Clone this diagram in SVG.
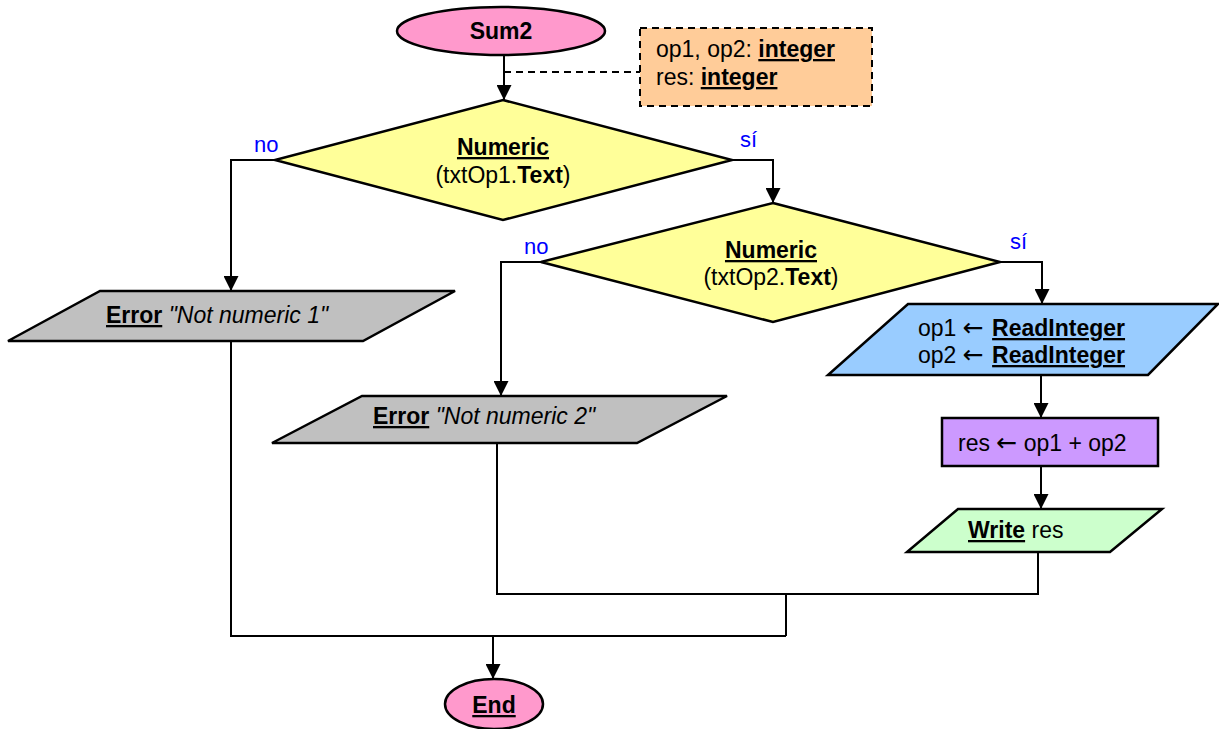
<svg xmlns="http://www.w3.org/2000/svg" width="1219" height="729" viewBox="0 0 1219 729">
<defs>
<style>
.t{font-family:"Liberation Sans",Arial,sans-serif;font-size:23px;fill:#000}
.c{text-anchor:middle}
.b{font-weight:bold}
.u{text-decoration:underline}
.i{font-style:italic}
.arw{font-family:"DejaVu Sans",sans-serif;font-size:25px}
.lbl{font-family:"Liberation Sans",Arial,sans-serif;font-size:22px;fill:#0000FF}
.sh{stroke:#000;stroke-width:2.5}
.ln{fill:none;stroke:#000;stroke-width:2}
.ar{marker-end:url(#ah)}
</style>
<marker id="ah" viewBox="0 0 10 10" refX="10" refY="5" markerWidth="15" markerHeight="15" markerUnits="userSpaceOnUse" orient="auto">
<path d="M0,0 L10,5 L0,10 z" fill="#000"/>
</marker>
</defs>
<rect width="1219" height="729" fill="#fff"/>
<g id="connectors">
<path class="ln ar" d="M504,55 V100"/>
<path class="ln" d="M504,72 H640" stroke-dasharray="7,5"/>
<path class="ln ar" d="M275,160 H231 V291"/>
<path class="ln ar" d="M732,160 H773 V203"/>
<path class="ln ar" d="M541,262 H501 V396"/>
<path class="ln ar" d="M1000,262 H1042 V304"/>
<path class="ln ar" d="M1041,375 V418"/>
<path class="ln ar" d="M1041,466 V509"/>
<path class="ln" d="M1038,552 V594 H497 V444"/>
<path class="ln" d="M786,594 V636"/>
<path class="ln" d="M231,341 V636 H786"/>
<path class="ln ar" d="M493,636 V679"/>
</g>
<g id="start">
<ellipse class="sh" cx="501" cy="31" rx="104" ry="24" fill="#FF99CC"/>
<text class="t c b" x="501" y="39">Sum2</text>
</g>
<g id="note">
<rect x="640" y="28" width="232" height="78" fill="#FFCC99" stroke="#000" stroke-width="2" stroke-dasharray="7,5"/>
<text class="t" x="656" y="57">op1, op2: <tspan class="b u">integer</tspan></text>
<text class="t" x="656" y="85">res: <tspan class="b u">integer</tspan></text>
</g>
<g id="decision1">
<polygon class="sh" points="503,100 732,160 503,220 275,160" fill="#FFFF99"/>
<text class="t c" x="503" y="155"><tspan class="b u">Numeric</tspan></text>
<text class="t c" x="503" y="183">(txtOp1.<tspan class="b">Text</tspan>)</text>
<text class="lbl" x="254" y="152">no</text>
<text class="lbl" x="740" y="147">sí</text>
</g>
<g id="decision2">
<polygon class="sh" points="773,203 1000,262 773,322 541,262" fill="#FFFF99"/>
<text class="t c" x="771" y="258"><tspan class="b u">Numeric</tspan></text>
<text class="t c" x="771" y="285">(txtOp2.<tspan class="b">Text</tspan>)</text>
<text class="lbl" x="524" y="254">no</text>
<text class="lbl" x="1010" y="249">sí</text>
</g>
<g id="error1">
<polygon class="sh" points="100,291 455,291 363,341 8,341" fill="#C0C0C0"/>
<text class="t" x="106" y="323"><tspan class="b u">Error</tspan> <tspan class="i">"Not numeric 1"</tspan></text>
</g>
<g id="error2">
<polygon class="sh" points="362,396 727,396 637,443 272,443" fill="#C0C0C0"/>
<text class="t" x="373" y="424"><tspan class="b u">Error</tspan> <tspan class="i">"Not numeric 2"</tspan></text>
</g>
<g id="read">
<polygon class="sh" points="908,304 1218,304 1148,375 828,375" fill="#99CCFF"/>
<text class="t" x="918" y="336">op1 <tspan class="arw">←</tspan> <tspan class="b u" dx="2">ReadInteger</tspan></text>
<text class="t" x="918" y="363">op2 <tspan class="arw">←</tspan> <tspan class="b u" dx="2">ReadInteger</tspan></text>
</g>
<g id="assign">
<rect class="sh" x="942" y="418" width="216" height="48" fill="#CC99FF"/>
<text class="t" x="958" y="451">res <tspan class="arw">←</tspan> op1 + op2</text>
</g>
<g id="write">
<polygon class="sh" points="958,509 1162,509 1110,552 907,552" fill="#CCFFCC"/>
<text class="t" x="968" y="538"><tspan class="b u">Write</tspan> res</text>
</g>
<g id="end">
<ellipse class="sh" cx="494" cy="704" rx="49" ry="25" fill="#FF99CC"/>
<text class="t c b" x="494" y="713"><tspan class="u">End</tspan></text>
</g>
</svg>
